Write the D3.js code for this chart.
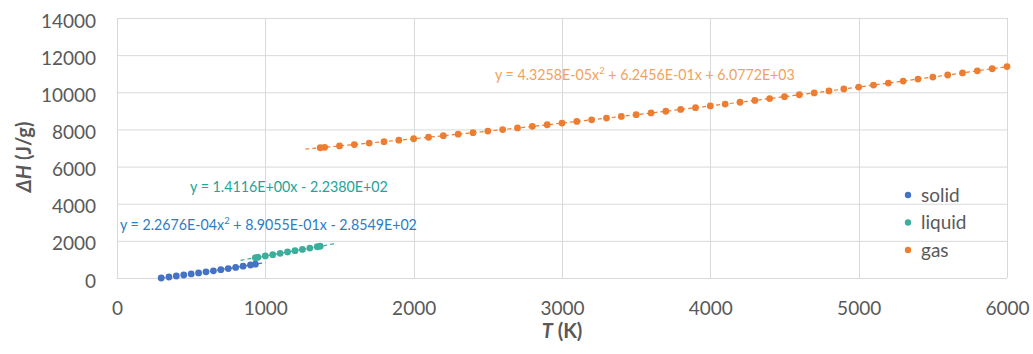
<!DOCTYPE html>
<html>
<head>
<meta charset="utf-8">
<script src="https://cdn.jsdelivr.net/npm/d3@7"></script>
<style>
  html, body { margin: 0; padding: 0; background: #fff; }
  svg { display: block; font-family: Lato, "Open Sans", sans-serif; }
</style>
</head>
<body>
<svg id="chart" width="1033" height="354"></svg>
<script>
// ---- data ----
const solidT = [298, 350, 400, 450, 500, 550, 600, 650, 700, 750, 800, 850, 900, 933];
const solidH = [0, 54, 107, 161, 217, 273, 331, 389, 449, 510, 572, 635, 700, 743];

const liquidT = [933, 950, 1000, 1050, 1100, 1150, 1200, 1250, 1300, 1350, 1370];
const liquidH = [1093, 1117, 1188, 1258, 1329, 1400, 1470, 1541, 1611, 1682, 1710];

const gasT = [1370, 1400, 1500, 1600, 1700, 1800, 1900, 2000, 2100, 2200, 2300, 2400, 2500,
  2600, 2700, 2800, 2900, 3000, 3100, 3200, 3300, 3400, 3500, 3600, 3700, 3800, 3900, 4000,
  4100, 4200, 4300, 4400, 4500, 4600, 4700, 4800, 4900, 5000, 5100, 5200, 5300, 5400, 5500,
  5600, 5700, 5800, 5900, 6000];
const gasH = [7014, 7036, 7111, 7187, 7264, 7342, 7420, 7499, 7580, 7661, 7743, 7825, 7909,
  7994, 8079, 8165, 8252, 8340, 8429, 8519, 8609, 8701, 8793, 8886, 8980, 9075, 9171, 9268,
  9365, 9463, 9563, 9663, 9764, 9866, 9968, 10072, 10176, 10281, 10388, 10495, 10603, 10711,
  10821, 10931, 11043, 11155, 11268, 11382];

// trendline coefficients shown on the chart (a2, a1, a0) and their drawn ranges
const solidFit = [2.2676e-4, 8.9055e-1, -2.8549e2];
const liquidFit = [0, 1.4116, -2.2380e2];
const gasFit = [4.3258e-5, 6.2456e-1, 6.0772e3];
const solidTrendRange = [298, 1000];
const liquidTrendRange = [833, 1470];
const gasTrendRange = [1270, 6000];

const solidEq = ["y = 2.2676E-04x", "2", " + 8.9055E-01x - 2.8549E+02"];
const liquidEq = ["y = 1.4116E+00x - 2.2380E+02"];
const gasEq = ["y = 4.3258E-05x", "2", " + 6.2456E-01x + 6.0772E+03"];

const xTicks = [0, 1000, 2000, 3000, 4000, 5000, 6000];
const yTicks = [0, 2000, 4000, 6000, 8000, 10000, 12000, 14000];
const seriesNames = ["solid", "liquid", "gas"];

// ---- styling ----
const colors = { solid: "#4472C4", liquid: "#3EAE9C", gas: "#ED7D31" };
const eqColors = { solid: "#2E7CC4", liquid: "#22A498", gas: "#F2A25C" };
const gridColor = "#D9D9D9";
const textColor = "#595959";

const svg = d3.select("#chart");
const x = d3.scaleLinear().domain([0, 6000]).range([117, 1007]);
const y = d3.scaleLinear().domain([0, 14000]).range([278, 18]);

// gridlines
svg.append("g").selectAll("line").data(yTicks).join("line")
  .attr("x1", x(0)).attr("x2", x(6000))
  .attr("y1", d => y(d) + 0.5).attr("y2", d => y(d) + 0.5)
  .attr("stroke", gridColor).attr("stroke-width", 1);
svg.append("g").selectAll("line").data(xTicks).join("line")
  .attr("y1", y(0)).attr("y2", y(14000))
  .attr("x1", d => Math.round(x(d)) + 0.5).attr("x2", d => Math.round(x(d)) + 0.5)
  .attr("stroke", gridColor).attr("stroke-width", 1);

// axes (labels only)
const xAxis = d3.axisBottom(x).tickValues(xTicks).tickFormat(d3.format("d")).tickSize(0).tickPadding(0);
const gx = svg.append("g").attr("transform", `translate(0,${y(0) + 27})`).call(xAxis);
gx.select(".domain").remove();
gx.selectAll("text").attr("font-size", 19).attr("fill", textColor)
  .attr("font-family", "Lato, sans-serif").attr("dy", "0.5em");

const yAxis = d3.axisLeft(y).tickValues(yTicks).tickFormat(d3.format("d")).tickSize(0).tickPadding(0);
const gy = svg.append("g").attr("transform", `translate(96,3)`).call(yAxis);
gy.select(".domain").remove();
gy.selectAll("text").attr("font-size", 19).attr("fill", textColor)
  .attr("font-family", "Lato, sans-serif");

// axis titles
const yt = svg.append("text")
  .attr("transform", "translate(31,157) rotate(-90)")
  .attr("text-anchor", "middle")
  .attr("font-size", 20).attr("font-weight", "bold").attr("fill", textColor);
yt.append("tspan").attr("font-style", "italic").text("ΔH");
yt.append("tspan").text(" (J/g)");

const xt = svg.append("text")
  .attr("x", 562).attr("y", 338)
  .attr("text-anchor", "middle")
  .attr("font-size", 20).attr("font-weight", "bold").attr("fill", textColor);
xt.append("tspan").attr("font-style", "italic").text("T");
xt.append("tspan").text(" (K)");

// trendlines
function trendPoints(c, range) {
  const n = 60, pts = [];
  for (let i = 0; i <= n; i++) {
    const t = range[0] + (range[1] - range[0]) * i / n;
    pts.push([t, c[0] * t * t + c[1] * t + c[2]]);
  }
  return pts;
}
const line = d3.line().x(d => x(d[0])).y(d => y(d[1]));
const trends = [
  { name: "solid", c: solidFit, r: solidTrendRange },
  { name: "liquid", c: liquidFit, r: liquidTrendRange },
  { name: "gas", c: gasFit, r: gasTrendRange }
];
svg.append("g").selectAll("path").data(trends).join("path")
  .attr("d", d => line(trendPoints(d.c, d.r)))
  .attr("fill", "none")
  .attr("stroke", d => colors[d.name])
  .attr("stroke-width", 1.2)
  .attr("stroke-dasharray", "4,3");

// markers
const series = [
  { name: "solid", T: solidT, H: solidH },
  { name: "liquid", T: liquidT, H: liquidH },
  { name: "gas", T: gasT, H: gasH }
];
series.forEach(s => {
  svg.append("g").selectAll("circle").data(s.T.map((t, i) => [t, s.H[i]])).join("circle")
    .attr("cx", d => x(d[0])).attr("cy", d => y(d[1]))
    .attr("r", 3.4).attr("fill", colors[s.name]);
});

// equations (fitted to the measured widths)
function equation(parts, color, x0, yb, width) {
  const t = svg.append("text").attr("font-size", 15).attr("fill", color)
    .attr("font-family", "Lato, sans-serif");
  parts.forEach((p, i) => {
    const sp = t.append("tspan").text(p);
    if (parts.length > 1 && i === 1) sp.attr("font-size", 10).attr("dy", "-6");
    if (parts.length > 1 && i === 2) sp.attr("dy", "6");
  });
  const w = t.node().getBBox().width;
  t.attr("transform", `translate(${x0},${yb}) scale(${width / w},1)`);
}
equation(gasEq, eqColors.gas, 495, 80, 300);
equation(liquidEq, eqColors.liquid, 190, 192, 198);
equation(solidEq, eqColors.solid, 120, 230, 297);

// legend
const legend = svg.append("g");
seriesNames.forEach((n, i) => {
  const ly = 195 + i * 27.5;
  legend.append("circle").attr("cx", 908).attr("cy", ly).attr("r", 3.2).attr("fill", colors[n]);
  legend.append("text").attr("x", 921).attr("y", ly + 6.5)
    .attr("font-size", 19).attr("fill", textColor).text(n);
});
</script>
</body>
</html>
